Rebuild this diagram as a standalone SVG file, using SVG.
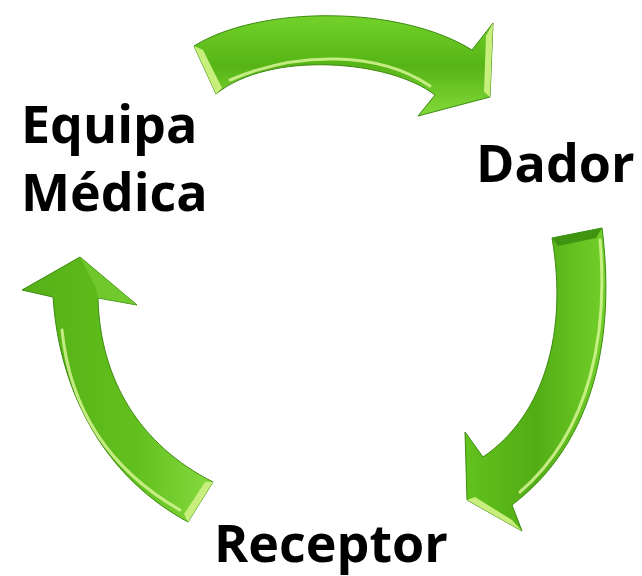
<svg xmlns="http://www.w3.org/2000/svg" width="642" height="576" viewBox="0 0 642 576">
  <style>
    .lbl { font-family: "Open Sans", "Liberation Sans", sans-serif; font-weight: 700; font-size: 52px; fill: #000; }
    .arrow { stroke: #3d8a10; stroke-width: 1; stroke-linejoin: round; }
    .hl { fill: none; stroke: #d6f594; stroke-width: 3; stroke-linecap: round; opacity: 0.85; }
    .facet { fill: #c8ee7c; }
  </style>
  <defs>
    <linearGradient id="gTop" x1="0" y1="0" x2="0" y2="1">
      <stop offset="0" stop-color="#72d22a"/>
      <stop offset="0.5" stop-color="#56b416"/>
      <stop offset="1" stop-color="#84da3a"/>
    </linearGradient>
    <linearGradient id="gRight" x1="0" y1="0" x2="1" y2="0">
      <stop offset="0" stop-color="#62c21e"/>
      <stop offset="0.5" stop-color="#52ad15"/>
      <stop offset="1" stop-color="#72d02a"/>
    </linearGradient>
    <linearGradient id="gLeft" x1="0" y1="0" x2="1" y2="0">
      <stop offset="0" stop-color="#54b016"/>
      <stop offset="0.6" stop-color="#62c01e"/>
      <stop offset="1" stop-color="#86da40"/>
    </linearGradient>
  </defs>

  <g id="connectors">
    <g id="arrow-equipa-dador">
      <path class="arrow" fill="url(#gTop)" d="M194,46 C260,5 400,5 472,50 L493,23 L490,97 L418,116 L435,95 C390,60 270,50 216,94 Z"/>
      <path class="facet" d="M194,46 L203,50 L222,88 L216,94 Z"/>
      <path class="hl" d="M230,80 C300,50 380,52 430,86"/>
      <path class="facet" d="M493,23 L490,97 L484,92 L486,36 Z"/>
    </g>
    <g id="arrow-dador-receptor">
      <path class="arrow" fill="url(#gRight)" d="M552,238 L602,228 C615,330 598,440 512,505 L522,531 L467,500 L465,432 L483,457 C545,415 568,330 552,238 Z"/>
      <path fill="#3f9410" d="M552,238 L602,228 L596,238 L558,246 Z"/>
      <path class="hl" d="M600,240 C608,330 592,430 520,492"/>
      <path class="facet" d="M467,500 L522,531 L512,520 L475,497 Z"/>
    </g>
    <g id="arrow-receptor-equipa">
      <path class="arrow" fill="url(#gLeft)" d="M213,482 L188,522 C110,480 60,400 53,297 L22,290 L80,257 L137,305 L98,298 C100,380 140,445 213,482 Z"/>
      <path class="facet" d="M213,482 L188,522 L184,514 L205,482 Z"/>
      <path class="hl" d="M62,330 C70,410 110,470 180,510"/>
      <path fill="#7cd038" d="M80,257 L137,305 L98,298 L96,288 Z" opacity="0.6"/>
    </g>
  </g>

  <g id="equipa">
    <text class="lbl" x="21" y="143">Equipa</text>
    <text class="lbl" x="21" y="211">Médica</text>
  </g>
  <g id="dador">
    <text class="lbl" x="476" y="182">Dador</text>
  </g>
  <g id="receptor">
    <text class="lbl" x="214" y="562">Receptor</text>
  </g>
</svg>
